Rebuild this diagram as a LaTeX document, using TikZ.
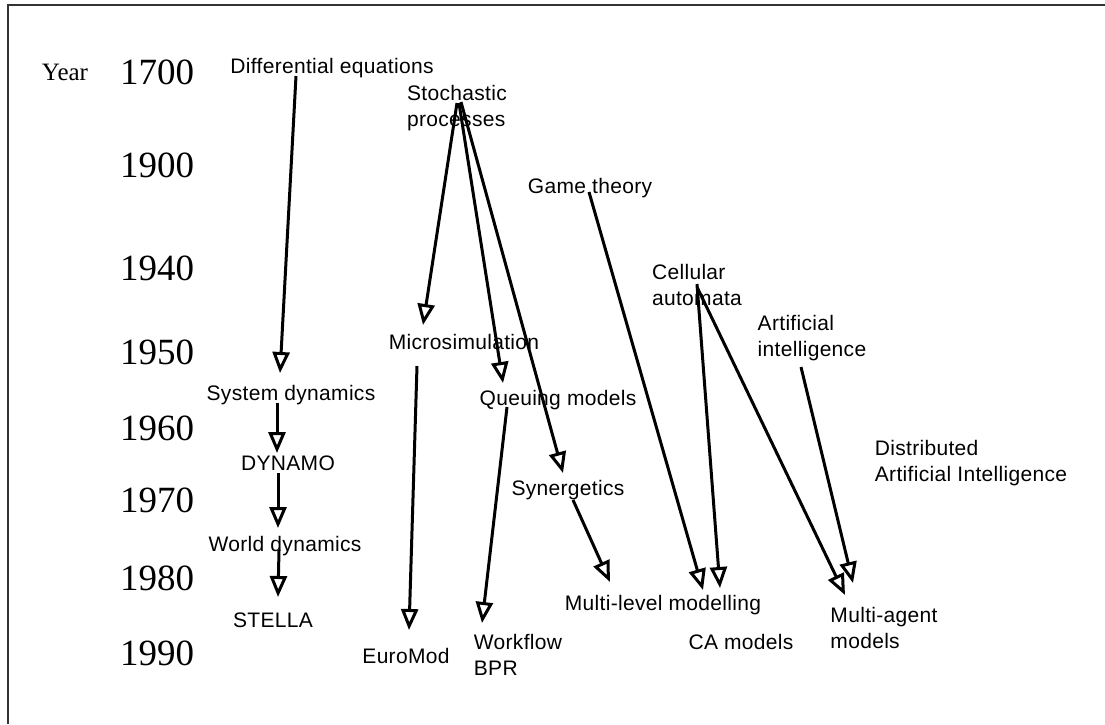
\documentclass[tikz,border=0pt]{standalone}
\usepackage{fontspec}
\setmainfont{Liberation Serif}
\setsansfont[LetterSpace=1.5]{Liberation Sans}
\usetikzlibrary{positioning, arrows.meta}

\begin{document}
\begin{tikzpicture}[x=1pt,y=-1pt,
			lbl/.style={inner sep=0pt,align=left,font=\sffamily\fontsize{21}{26}\selectfont},
			yr/.style={inner sep=0pt,font=\fontsize{37}{40}\selectfont},
			arr/.style={-{Triangle[open,length=21pt,width=17pt]},line width=3pt}]
		\useasboundingbox (0,0) rectangle (1105,724);
		\draw[line width=1.5pt,black!80] (8,724) -- (8,5) -- (1105,5);
		\node[inner sep=0pt,font=\fontsize{25}{28}\selectfont] (year) at (65,72) {Year};
		\foreach \Y/\P in {1700/72,1900/165,1940/268,1950/352,1960/428,1970/500,1980/578,1990/653}
		{\node[yr] (y\Y) at (157,\P) {\Y};}
		\node[lbl] (diffeq) at (332,68) {Differential equations};
		\node[lbl] (stoch) at (457,108) {Stochastic\\processes};
		\node[lbl] (game) at (590,188) {Game theory};
		\node[lbl] (cell) at (697,285) {Cellular\\automata};
		\node[lbl] (ai) at (812,338) {Artificial\\intelligence};
		\node[lbl] (micro) at (464,342) {Microsimulation};
		\node[lbl] (sysdyn) at (291,395) {System dynamics};
		\node[lbl] (queue) at (558,400) {Queuing models};
		\node[lbl] (dai) at (971,463) {Distributed\\Artificial Intelligence};
		\node[lbl] (dynamo) at (288,463) {DYNAMO};
		\node[lbl] (syn) at (568,490) {Synergetics};
		\node[lbl] (world) at (285,546) {World dynamics};
		\node[lbl] (multilevel) at (663,605) {Multi-level modelling};
		\node[lbl] (stella) at (273,620) {STELLA};
		\node[lbl] (camod) at (741,642) {CA models};
		\node[lbl] (magent) at (884,628) {Multi-agent\\models};
		\node[lbl] (euro) at (406,656) {EuroMod};
		\node[lbl] (workflow) at (518,655) {Workflow\\BPR};
		\draw[arr] ([shift={(-36,8)}]diffeq.center) -- ([shift={(-11,-22)}]sysdyn.center);
		\draw[arr] ([shift={(0,-5)}]stoch.center) -- ([shift={(-41,-17)}]micro.center);
		\draw[arr] ([shift={(2,-5)}]stoch.center) -- ([shift={(-55,-17)}]queue.center);
		\draw[arr] ([shift={(4,-6)}]stoch.center) -- ([shift={(-5,-17)}]syn.center);
		\draw[arr] ([shift={(-14,8)}]sysdyn.center) -- ([shift={(-11,-10)}]dynamo.center);
		\draw[arr] ([shift={(-10,10)}]dynamo.center) -- ([shift={(-7,-18)}]world.center);
		\draw[arr] ([shift={(-6,4)}]world.center) -- ([shift={(5,-23)}]stella.center);
		\draw[arr] ([shift={(-47,24)}]micro.center) -- ([shift={(3,-26)}]euro.center);
		\draw[arr] ([shift={(-51,7)}]queue.center) -- ([shift={(-36,-32)}]workflow.center);
		\draw[arr] ([shift={(5,10)}]syn.center) -- ([shift={(-53,-23)}]multilevel.center);
		\draw[arr] ([shift={(-1,4)}]game.center) -- ([shift={(40,-15)}]multilevel.center);
		\draw[arr] ([shift={(0,-1)}]cell.center) -- ([shift={(-21,-54)}]camod.center);
		\draw[arr] ([shift={(0,2)}]cell.center) -- ([shift={(-39,-33)}]magent.center);
		\draw[arr] ([shift={(-11,29)}]ai.center) -- ([shift={(-31,-45)}]magent.center);
	\end{tikzpicture}
\end{document}
